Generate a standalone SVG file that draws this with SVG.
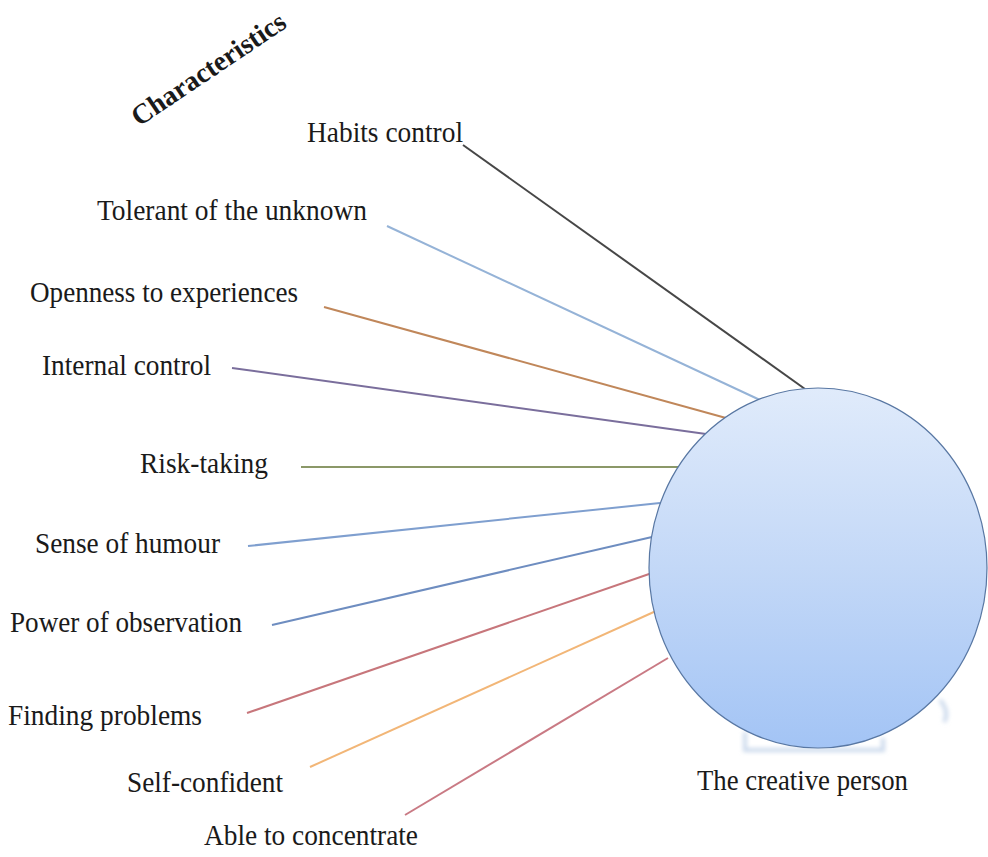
<svg xmlns="http://www.w3.org/2000/svg" width="988" height="857" viewBox="0 0 988 857">
<defs>
<linearGradient id="g" x1="0" y1="0" x2="0" y2="1">
<stop offset="0" stop-color="#e0ebfb"/>
<stop offset="0.5" stop-color="#c3d8f7"/>
<stop offset="1" stop-color="#a3c4f5"/>
</linearGradient>
<filter id="blur" x="-20%" y="-20%" width="140%" height="140%"><feGaussianBlur stdDeviation="2"/></filter>
</defs>
<style>
text{font-family:"Liberation Serif","Times New Roman",serif;font-size:30px;fill:#1a1a1a;}
.t{font-weight:bold;font-size:28px;}
line{stroke-width:2;fill:none;}
</style>
<rect width="988" height="857" fill="#ffffff"/>
<g id="title"><text class="t" x="0" y="0" transform="translate(139,127) rotate(-34)" textLength="180" lengthAdjust="spacingAndGlyphs">Characteristics</text></g>
<g id="connectors">
<line x1="463" y1="145" x2="805" y2="389" stroke="#474747"/>
<line x1="387" y1="226" x2="760" y2="400" stroke="#95b3d7"/>
<line x1="324" y1="307" x2="726" y2="418" stroke="#c0875a"/>
<line x1="232" y1="368" x2="706" y2="434" stroke="#7a6e9c"/>
<line x1="301" y1="467" x2="681" y2="467" stroke="#8b9868"/>
<line x1="248" y1="546" x2="660" y2="503" stroke="#7f9fcf"/>
<line x1="272" y1="625" x2="652" y2="537" stroke="#6e8dc0"/>
<line x1="247" y1="713" x2="652" y2="573" stroke="#c7767b"/>
<line x1="310" y1="767" x2="656" y2="611" stroke="#f2b677"/>
<line x1="405" y1="815" x2="668" y2="658" stroke="#c97a84"/>
</g>
<g id="person">
<path d="M745,732 L745,750 L883,750 L883,738 M940,700 Q950,712 944,722" stroke="#cbd9ec" stroke-width="4" fill="none" filter="url(#blur)"/>
<ellipse cx="818" cy="568" rx="169" ry="180" fill="url(#g)" stroke="#5877a3" stroke-width="1.2"/>
<text x="697" y="790" textLength="211" lengthAdjust="spacingAndGlyphs">The creative person</text>
</g>
<g id="n1"><text x="307" y="142" textLength="156" lengthAdjust="spacingAndGlyphs">Habits control</text></g>
<g id="n2"><text x="97" y="220" textLength="270" lengthAdjust="spacingAndGlyphs">Tolerant of the unknown</text></g>
<g id="n3"><text x="30" y="302" textLength="268" lengthAdjust="spacingAndGlyphs">Openness to experiences</text></g>
<g id="n4"><text x="42" y="375" textLength="169" lengthAdjust="spacingAndGlyphs">Internal control</text></g>
<g id="n5"><text x="140" y="473" textLength="128" lengthAdjust="spacingAndGlyphs">Risk-taking</text></g>
<g id="n6"><text x="35" y="553" textLength="185" lengthAdjust="spacingAndGlyphs">Sense of humour</text></g>
<g id="n7"><text x="10" y="632" textLength="232" lengthAdjust="spacingAndGlyphs">Power of observation</text></g>
<g id="n8"><text x="8" y="725" textLength="194" lengthAdjust="spacingAndGlyphs">Finding problems</text></g>
<g id="n9"><text x="127" y="792" textLength="156" lengthAdjust="spacingAndGlyphs">Self-confident</text></g>
<g id="n10"><text x="204" y="845" textLength="214" lengthAdjust="spacingAndGlyphs">Able to concentrate</text></g>
</svg>
